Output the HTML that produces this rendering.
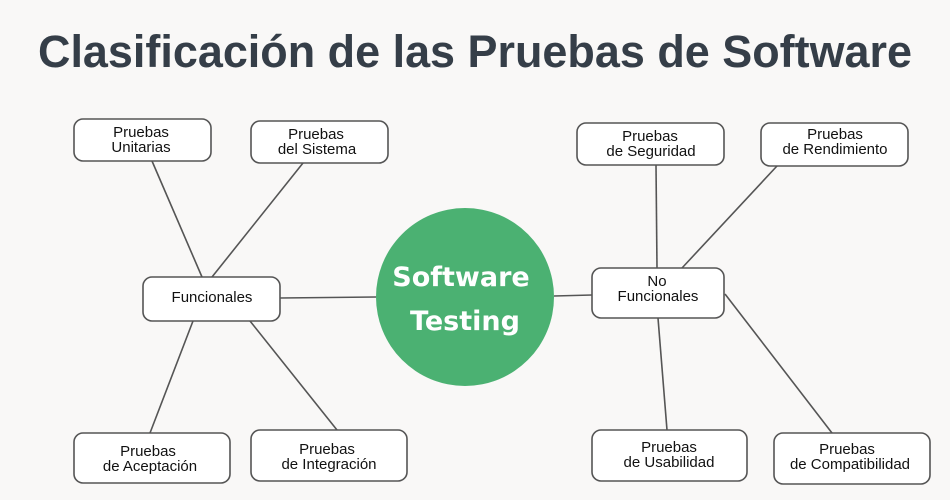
<!DOCTYPE html>
<html><head><meta charset="utf-8"><style>
html,body{margin:0;padding:0;background:#f9f8f7;}
svg{display:block}
</style></head><body>
<svg width="950" height="500" viewBox="0 0 950 500" xmlns="http://www.w3.org/2000/svg">
<rect width="950" height="500" fill="#f9f8f7"/>
<text x="475" y="67" text-anchor="middle" font-family="Liberation Sans, sans-serif" font-weight="bold" font-size="45" fill="#353e48" textLength="874" lengthAdjust="spacingAndGlyphs">Clasificación de las Pruebas de Software</text>
<g stroke="#555" stroke-width="1.6" fill="none">
<line x1="152" y1="161" x2="202" y2="277"/>
<line x1="303" y1="163" x2="212" y2="277"/>
<line x1="280" y1="298" x2="376" y2="297"/>
<line x1="193" y1="321" x2="150" y2="433"/>
<line x1="250" y1="321" x2="337" y2="430"/>
<line x1="554" y1="296" x2="592" y2="295"/>
<line x1="656" y1="165" x2="657" y2="268"/>
<line x1="777" y1="166" x2="682" y2="268"/>
<line x1="658" y1="318" x2="667" y2="430"/>
<line x1="725" y1="294" x2="832" y2="433"/>
</g>
<g fill="#fff" stroke="#555" stroke-width="1.6">
<rect x="74" y="119" width="137" height="42" rx="9"/>
<rect x="251" y="121" width="137" height="42" rx="9"/>
<rect x="143" y="277" width="137" height="44" rx="9"/>
<rect x="74" y="433" width="156" height="50" rx="9"/>
<rect x="251" y="430" width="156" height="51" rx="9"/>
<rect x="577" y="123" width="147" height="42" rx="9"/>
<rect x="761" y="123" width="147" height="43" rx="9"/>
<rect x="592" y="268" width="132" height="50" rx="9"/>
<rect x="592" y="430" width="155" height="51" rx="9"/>
<rect x="774" y="433" width="156" height="51" rx="9"/>
</g>
<circle cx="465" cy="297" r="89" fill="#4bb172"/>
<g font-family="Liberation Sans, sans-serif" font-size="15" fill="#111" text-anchor="middle">
<text x="141" y="137">Pruebas</text><text x="141" y="152">Unitarias</text>
<text x="316" y="139">Pruebas</text><text x="317" y="154">del Sistema</text>
<text x="212" y="302">Funcionales</text>
<text x="148" y="456">Pruebas</text><text x="150" y="471">de Aceptación</text>
<text x="327" y="454">Pruebas</text><text x="329" y="469">de Integración</text>
<text x="650" y="141">Pruebas</text><text x="651" y="156">de Seguridad</text>
<text x="835" y="139">Pruebas</text><text x="835" y="154">de Rendimiento</text>
<text x="657" y="286">No</text><text x="658" y="301">Funcionales</text>
<text x="669" y="452">Pruebas</text><text x="669" y="467">de Usabilidad</text>
<text x="847" y="454">Pruebas</text><text x="850" y="469">de Compatibilidad</text>
</g>
<g font-family="DejaVu Sans, sans-serif" font-weight="bold" font-size="27" fill="#fff" text-anchor="middle">
<text x="461" y="286">Software</text>
<text x="465" y="330">Testing</text>
</g>
</svg>
</body></html>
